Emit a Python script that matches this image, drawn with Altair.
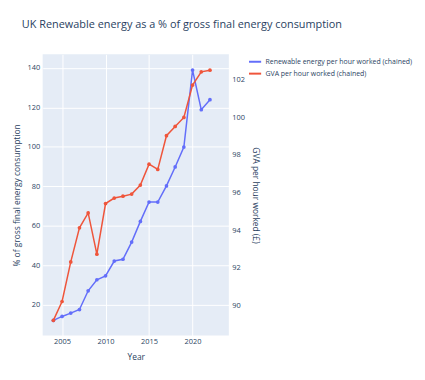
import altair as alt
import pandas as pd

years = list(range(2004, 2023))
renewable = [12.0, 14.0, 15.7, 17.5, 27.0, 32.6, 34.6, 42.1, 43.0, 51.7,
             62.2, 72.0, 72.0, 80.2, 89.8, 99.9, 138.9, 118.8, 123.9]
gva = [89.21, 90.21, 92.31, 94.12, 94.91, 92.72, 95.41, 95.70, 95.80, 95.91,
       96.39, 97.50, 97.22, 99.01, 99.50, 99.98, 101.70, 102.40, 102.49]
series_names = ["Renewable energy per hour worked (chained)", "GVA per hour worked (chained)"]
colors = ["#636efa", "#EF553B"]
x_ticks = [2005, 2010, 2015, 2020]
left_ticks = [20, 40, 60, 80, 100, 120, 140]
right_ticks = [90, 92, 94, 96, 98, 100, 102]

df = pd.DataFrame({
    "Year": years + years,
    "value": renewable + gva,
    "series": [series_names[0]] * len(years) + [series_names[1]] * len(years),
})

FONT = "Open Sans"
TXT = "#2a3f5f"
TICK_FS = 7.5
TITLE_FS = 8.5

color = alt.Color(
    "series:N",
    scale=alt.Scale(domain=series_names, range=colors),
    legend=alt.Legend(title=None, orient="none", legendX=207, legendY=0,
                      symbolType="stroke", symbolStrokeWidth=2, symbolSize=150,
                      labelFontSize=7, labelColor=TXT, labelFont=FONT,
                      rowPadding=-1, labelLimit=0, labelOffset=3),
)

xenc = alt.X("Year:Q",
             scale=alt.Scale(domain=[2002.77, 2024.17], nice=False, zero=False),
             axis=alt.Axis(values=x_ticks, format="d", title="Year", grid=True,
                           gridColor="white", gridWidth=1, domain=False, ticks=False,
                           labelPadding=2, labelFontSize=TICK_FS, labelColor=TXT, labelFont=FONT,
                           titleFontSize=TITLE_FS, titleColor=TXT, titleFont=FONT,
                           titleFontWeight="normal", titlePadding=8))

base = alt.Chart(df)

left = base.transform_filter(alt.datum.series == series_names[0]).mark_line(
    strokeWidth=1.5, point=alt.OverlayMarkDef(size=14, filled=True, opacity=1)
).encode(
    x=xenc,
    y=alt.Y("value:Q",
            scale=alt.Scale(domain=[4.3, 146.9], nice=False, zero=False),
            axis=alt.Axis(orient="left", values=left_ticks, title="% of gross final energy consumption",
                          grid=True, gridColor="white", domain=False, ticks=False,
                          labelPadding=3, labelFontSize=TICK_FS, labelColor=TXT, labelFont=FONT,
                          titleFontSize=TITLE_FS, titleColor=TXT, titleFont=FONT,
                          titleFontWeight="normal", titlePadding=6)),
    color=color,
)

right = base.transform_filter(alt.datum.series == series_names[1]).mark_line(
    strokeWidth=1.5, point=alt.OverlayMarkDef(size=14, filled=True, opacity=1)
).encode(
    x=xenc,
    y=alt.Y("value:Q",
            scale=alt.Scale(domain=[88.4, 103.33], nice=False, zero=False),
            axis=alt.Axis(orient="right", values=right_ticks, title="GVA per hour worked (£)",
                          grid=False, domain=False, ticks=False,
                          labelPadding=3, labelFontSize=TICK_FS, labelColor=TXT, labelFont=FONT,
                          titleFontSize=TITLE_FS, titleColor=TXT, titleFont=FONT,
                          titleFontWeight="normal", titlePadding=6)),
    color=color,
)

chart = alt.layer(left, right).resolve_scale(y="independent").properties(
    width=188, height=284,
    autosize=alt.AutoSizeParams(type="none"),
    padding={"left": 35, "top": 45, "right": 190, "bottom": 35},
    title=alt.TitleParams("UK Renewable energy as a % of gross final energy consumption",
                          anchor="start", frame="group", dx=-21, offset=25,
                          fontSize=11, font=FONT, color=TXT, fontWeight="normal"),
).configure_view(fill="#E5ECF6", stroke=None).configure_legend(labelLimit=0)

chart.save("out.html", embed_options={"renderer": "svg", "actions": False})
